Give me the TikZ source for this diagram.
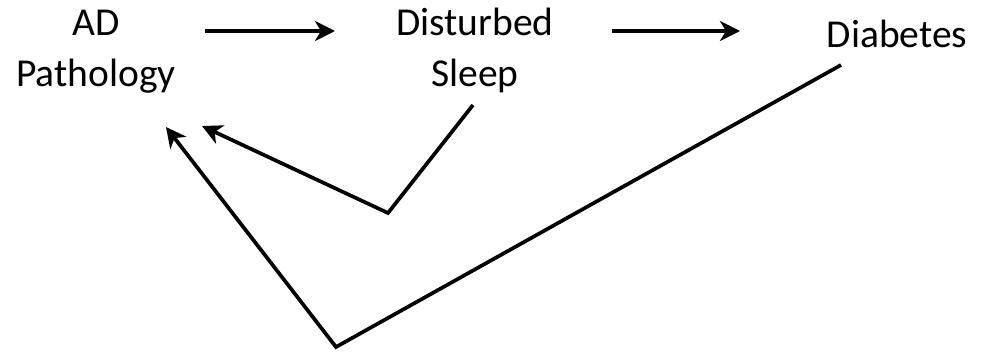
\documentclass[tikz,border=0pt]{standalone}
\usepackage{fontspec}
\setmainfont{Carlito}
\usetikzlibrary{arrows.meta}
\begin{document}
\begin{tikzpicture}[
    x=0.02cm, y=-0.02cm,
    factor/.style={align=center, inner sep=0pt, font=\fontsize{22.5}{28.5}\selectfont},
    flow/.style={draw, line width=2.1pt, line join=miter, -{Stealth[length=0.4cm, width=0.4cm, inset=0.12cm]}},
    link/.style={draw, line width=2.1pt}
]
  \useasboundingbox (0,0) rectangle (981,356);
  % factors
  \node[factor, anchor=base] (ad) at (96,86) {AD\\Pathology};
  \node[factor, anchor=base] (sleep) at (475,86) {Disturbed\\Sleep};
  \node[factor, anchor=base] (diab) at (897,47) {Diabetes};
  % forward chain
  \coordinate (adout) at (205,31);
  \coordinate (sleepin) at (335,31);
  \coordinate (sleepout) at (612,31);
  \coordinate (diabin) at (740,31);
  \draw[flow] (adout) -- (sleepin);
  \draw[flow] (sleepout) -- (diabin);
  % feedback paths
  \coordinate (sleepfb) at (473,105);
  \coordinate (sleepbend) at (388,213);
  \coordinate (adfb1) at (202,126);
  \draw[flow] (sleepfb) -- (sleepbend) -- (adfb1);
  \coordinate (diabfb) at (841,65);
  \coordinate (diabbend) at (336,347);
  \coordinate (adfb2) at (166,127);
  \draw[flow] (diabfb) -- (diabbend) -- (adfb2);
\end{tikzpicture}
\end{document}
